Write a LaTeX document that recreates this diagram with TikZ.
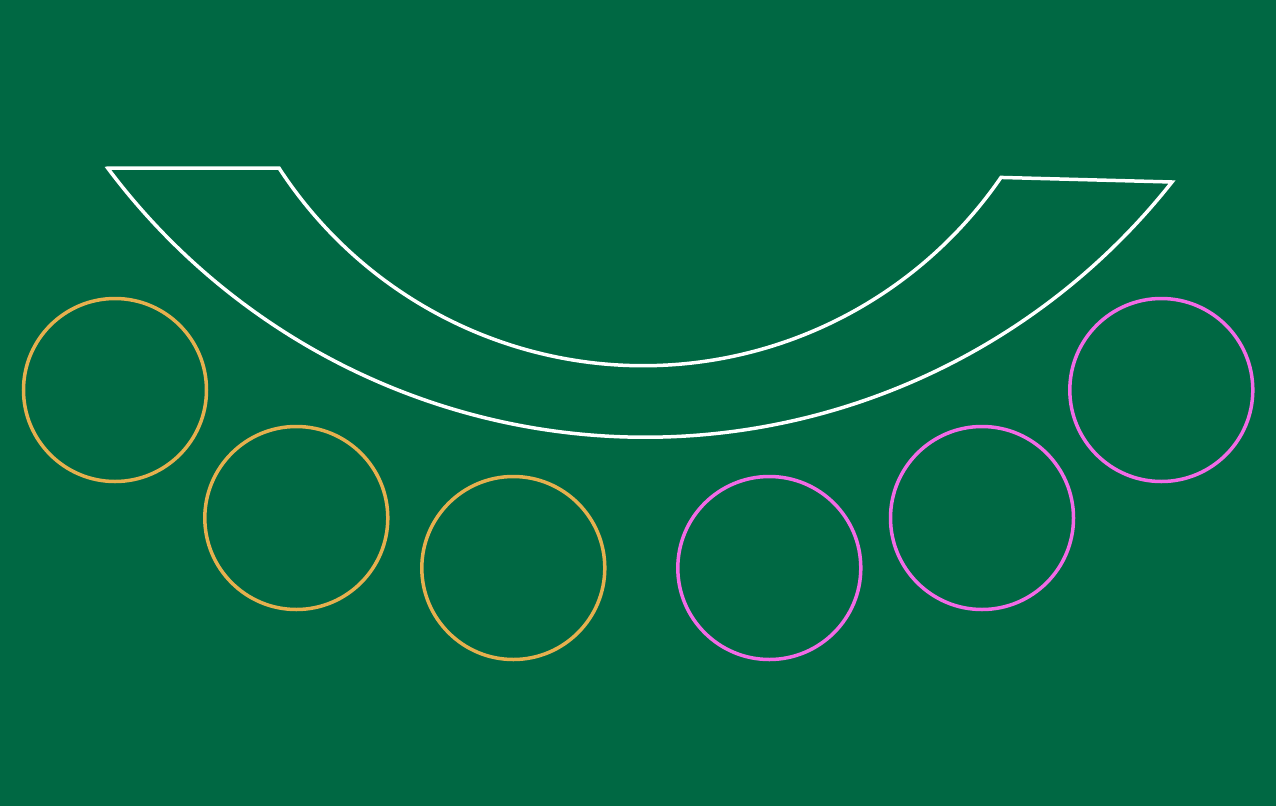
\documentclass[tikz,border=0pt]{standalone}
\definecolor{felt}{RGB}{0,104,67}
\definecolor{gold}{RGB}{230,176,78}
\definecolor{pinkc}{RGB}{242,106,230}
\tikzset{
  tableline/.style={draw=white, line width=3.5pt, line join=miter},
  goldspot/.style={draw=gold, line width=3.5pt},
  pinkspot/.style={draw=pinkc, line width=3.5pt}
}
\begin{document}
\begin{tikzpicture}[x=1pt,y=-1pt]
\fill[felt] (0,0) rectangle (1276,806);
\useasboundingbox (0,0) rectangle (1276,806);
\coordinate (ol) at (108,168);
\coordinate (il) at (279,168);
\coordinate (ir) at (1001,178);
\coordinate (or) at (1172,182);
\draw[tableline] (ol) -- (il)
  arc[start angle=147.0, end angle=34.5, radius=434.2]
  -- (or)
  arc[start angle=38.3, end angle=143.2, radius=671.3]
  -- cycle;
\draw[goldspot] (115,390) circle[radius=91.5];
\draw[goldspot] (296.3,518) circle[radius=91.5];
\draw[goldspot] (513.3,568) circle[radius=91.5];
\draw[pinkspot] (769.3,568) circle[radius=91.5];
\draw[pinkspot] (982,518) circle[radius=91.5];
\draw[pinkspot] (1161.3,390) circle[radius=91.5];
\end{tikzpicture}
\end{document}
